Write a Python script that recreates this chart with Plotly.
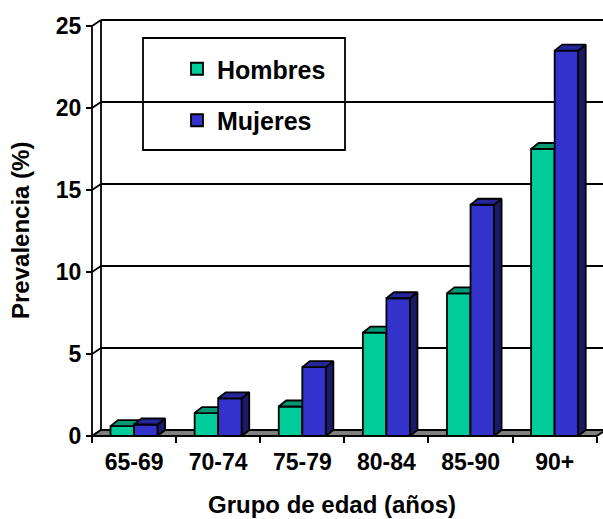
import plotly.graph_objects as go

# --- data -------------------------------------------------------------
age_groups = ["65-69", "70-74", "75-79", "80-84", "85-90", "90+"]
hombres = [0.6, 1.4, 1.8, 6.3, 8.7, 17.5]
mujeres = [0.7, 2.3, 4.2, 8.4, 14.1, 23.5]
y_ticks = [0, 5, 10, 15, 20, 25]

# --- geometry (pixels) ------------------------------------------------
FIG_W, FIG_H = 603, 519
AX_X0 = 92        # front value axis, left edge of first category
AX_Y0 = 436       # value 0 on the front plane
CAT_PX = 84.12    # width of one category
UNIT_PX = 16.4    # pixels per percentage point
WALL_DX, WALL_DY = 9, 6   # depth of walls / floor
BAR_DX, BAR_DY = 7.5, 6   # depth of each column
BAR_W = 0.28              # column width in category units
LW = 1.8

GREEN, GREEN_TOP, GREEN_SIDE = "#00CC99", "#009973", "#00664D"
BLUE, BLUE_TOP, BLUE_SIDE = "#3333CC", "#262699", "#1A1A66"
FONT = "Liberation Sans, Arial, sans-serif"

x_range = [-0.5 - AX_X0 / CAT_PX, -0.5 + (FIG_W - AX_X0) / CAT_PX]
y_range = [-(FIG_H - AX_Y0) / UNIT_PX, AX_Y0 / UNIT_PX]

wdx, wdy = WALL_DX / CAT_PX, WALL_DY / UNIT_PX
bdx, bdy = BAR_DX / CAT_PX, BAR_DY / UNIT_PX
n = len(age_groups)
idx = list(range(n))
x_left, x_right = -0.5, n - 0.5


def faces(values, offset):
    """Top and right-side faces of each column as closed polygons."""
    tx, ty, sx, sy = [], [], [], []
    for i, v in zip(idx, values):
        xl = i + offset
        xr = xl + BAR_W
        tx += [xl, xr, xr + bdx, xl + bdx, xl, None]
        ty += [v, v, v + bdy, v + bdy, v, None]
        sx += [xr, xr, xr + bdx, xr + bdx, xr, None]
        sy += [0, v, v + bdy, bdy, 0, None]
    return (tx, ty), (sx, sy)


fig = go.Figure()

series = [
    ("Hombres", hombres, -BAR_W, GREEN, GREEN_TOP, GREEN_SIDE, "x", "y"),
    ("Mujeres", mujeres, 0.0, BLUE, BLUE_TOP, BLUE_SIDE, "x2", "y2"),
]
for name, vals, off, c_front, c_top, c_side, xa, ya in series:
    fig.add_trace(go.Bar(
        name=name, x=idx, y=vals, width=BAR_W, offset=off,
        marker=dict(color=c_front, line=dict(color="black", width=LW)),
        xaxis=xa, yaxis=ya, legendgroup=name, hoverinfo="y",
    ))
    (tx, ty), (sx, sy) = faces(vals, off)
    for fx, fy, fc in ((sx, sy, c_side), (tx, ty, c_top)):
        fig.add_trace(go.Scatter(
            x=fx, y=fy, mode="lines", fill="toself", fillcolor=fc,
            line=dict(color="black", width=LW), hoverinfo="skip",
            showlegend=False, xaxis=xa, yaxis=ya, legendgroup=name,
        ))

shapes = []
# back-wall gridlines with their diagonal link to the front axis
for v in y_ticks:
    shapes.append(dict(type="line", x0=x_left, y0=v, x1=x_left + wdx, y1=v + wdy))
    shapes.append(dict(type="line", x0=x_left + wdx, y0=v + wdy,
                       x1=x_right + wdx, y1=v + wdy))
# floor
shapes.append(dict(
    type="path",
    path=(f"M{x_left},0 L{x_right},0 L{x_right + wdx},{wdy} "
          f"L{x_left + wdx},{wdy} Z"),
    fillcolor="#808080",
))
# back wall left edge and front value axis
shapes.append(dict(type="line", x0=x_left + wdx, y0=wdy,
                   x1=x_left + wdx, y1=y_ticks[-1] + wdy))
shapes.append(dict(type="line", x0=x_left, y0=0, x1=x_left, y1=y_ticks[-1]))
for s in shapes:
    s.update(xref="x", yref="y", layer="below",
             line=dict(color="black", width=LW))

# legend frame
shapes.append(dict(type="rect", xref="paper", yref="paper",
                   x0=143 / FIG_W, x1=345 / FIG_W,
                   y0=1 - 150 / FIG_H, y1=1 - 38 / FIG_H,
                   line=dict(color="black", width=LW), layer="above"))

tickfont = dict(family=FONT, size=23, color="black", weight="bold")

fig.update_layout(
    width=FIG_W, height=FIG_H, autosize=False,
    margin=dict(l=0, r=0, t=0, b=0, pad=0),
    paper_bgcolor="white", plot_bgcolor="white",
    template="none",
    barmode="overlay",
    shapes=shapes,
    xaxis=dict(
        range=x_range, anchor="free", position=(FIG_H - AX_Y0) / FIG_H,
        tickmode="array", tickvals=idx, ticktext=age_groups, ticks="",
        tickfont=tickfont, ticklabelstandoff=10,
        minor=dict(tickmode="array", tickvals=[i - 0.5 for i in range(n + 1)],
                   ticks="outside", ticklen=6, tickwidth=LW, tickcolor="black",
                   showgrid=False),
        showgrid=False, zeroline=False, showline=False, automargin=False,
        fixedrange=True,
    ),
    yaxis=dict(
        range=y_range, anchor="free", position=AX_X0 / FIG_W,
        tickmode="array", tickvals=y_ticks, ticks="outside", ticklen=6,
        tickwidth=LW, tickcolor="black", tickfont=tickfont,
        showgrid=False, zeroline=False, showline=False, automargin=False,
        fixedrange=True,
    ),
    xaxis2=dict(overlaying="x", range=x_range, visible=False, fixedrange=True),
    yaxis2=dict(overlaying="y", range=y_range, visible=False, fixedrange=True),
    showlegend=True,
    legend=dict(
        x=177 / FIG_W, y=1 - 46 / FIG_H, xanchor="left", yanchor="top",
        bgcolor="rgba(0,0,0,0)", borderwidth=0,
        traceorder="grouped", tracegroupgap=16,
        font=dict(family=FONT, size=25, color="black", weight="bold"),
    ),
    annotations=[
        dict(text="Grupo de edad (años)", xref="paper", yref="paper",
             x=332 / FIG_W, y=1 - 504 / FIG_H, xanchor="center",
             yanchor="middle", showarrow=False,
             font=dict(family=FONT, size=24, color="black", weight="bold")),
        dict(text="Prevalencia (%)", xref="paper", yref="paper",
             x=20 / FIG_W, y=1 - 231 / FIG_H, xanchor="center",
             yanchor="middle", showarrow=False, textangle=-90,
             font=dict(family=FONT, size=24, color="black", weight="bold")),
    ],
)

fig.write_html("out.html")
